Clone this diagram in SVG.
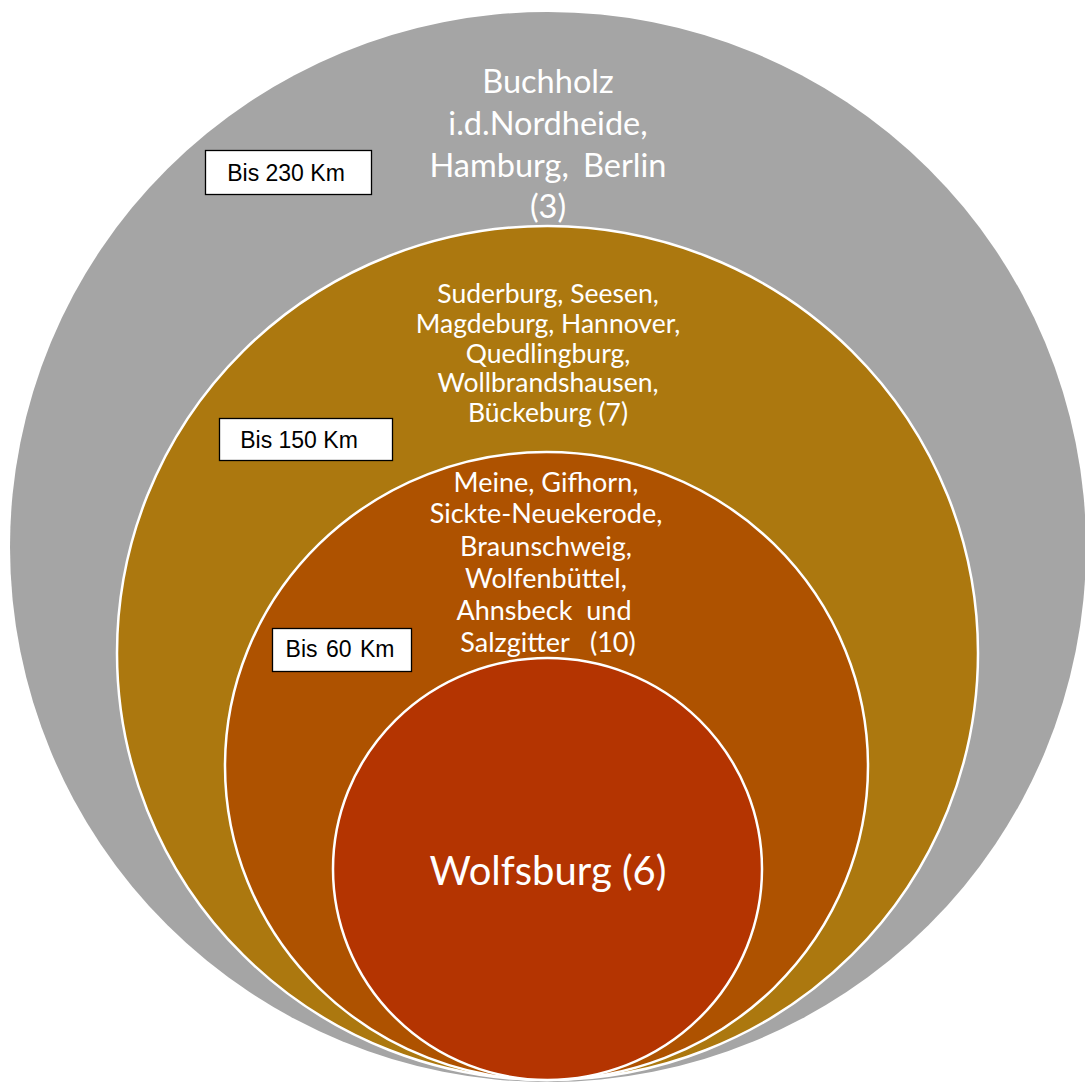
<svg xmlns="http://www.w3.org/2000/svg" width="1085" height="1082" viewBox="0 0 1085 1082">
<style>
.ring{stroke:#FFFFFF;stroke-width:2.5}
.t{font-family:Lato,"Open Sans","Liberation Sans",sans-serif;fill:#FFFFFF;text-anchor:middle;white-space:pre}
.box{fill:#FFFFFF;stroke:#000000;stroke-width:1.3}
.lbl{font-family:"Liberation Sans",Arial,sans-serif;font-size:23px;fill:#000000;text-anchor:middle;white-space:pre}
</style>
<rect width="1085" height="1082" fill="#FFFFFF"/>
<g id="ring-230">
<ellipse cx="548" cy="547" rx="538" ry="535" fill="#A5A5A5"/>
<text class="t" font-size="32.5" xml:space="preserve"><tspan x="548" y="93">Buchholz</tspan><tspan x="548" y="135">i.d.Nordheide,</tspan><tspan x="548" y="177" word-spacing="6">Hamburg, Berlin</tspan><tspan x="548" y="218">(3)</tspan></text>
</g>
<g id="ring-150">
<ellipse class="ring" cx="547.5" cy="653" rx="430.5" ry="427" fill="#AC780F"/>
<text class="t" font-size="26.5" xml:space="preserve"><tspan x="548" y="303">Suderburg, Seesen,</tspan><tspan x="548" y="333">Magdeburg, Hannover,</tspan><tspan x="548" y="363">Quedlingburg,</tspan><tspan x="548" y="392">Wollbrandshausen,</tspan><tspan x="548" y="422">Bückeburg (7)</tspan></text>
</g>
<g id="ring-60">
<ellipse class="ring" cx="546.5" cy="766" rx="321.5" ry="314" fill="#AE5200"/>
<text class="t" font-size="27" xml:space="preserve"><tspan x="546" y="492">Meine, Gifhorn,</tspan><tspan x="546" y="523">Sickte-Neuekerode,</tspan><tspan x="546" y="556">Braunschweig,</tspan><tspan x="546" y="588">Wolfenbüttel,</tspan><tspan x="544" y="620">Ahnsbeck  und</tspan><tspan x="548" y="652">Salzgitter   (10)</tspan></text>
</g>
<g id="center">
<ellipse class="ring" cx="547.5" cy="869" rx="214.5" ry="211" fill="#B43401"/>
<text class="t" font-size="40" x="548" y="885">Wolfsburg (6)</text>
</g>
<g id="label-230">
<rect class="box" x="205.5" y="150.5" width="166" height="44"/>
<text class="lbl" x="286" y="181">Bis 230 Km</text>
</g>
<g id="label-150">
<rect class="box" x="219.5" y="418.5" width="173" height="42"/>
<text class="lbl" x="299" y="448">Bis 150 Km</text>
</g>
<g id="label-60">
<rect class="box" x="272.5" y="628.5" width="139" height="43"/>
<text class="lbl" x="340" y="657" font-size="20" word-spacing="2">Bis 60 Km</text>
</g>
<g id="connectors"/>
</svg>
